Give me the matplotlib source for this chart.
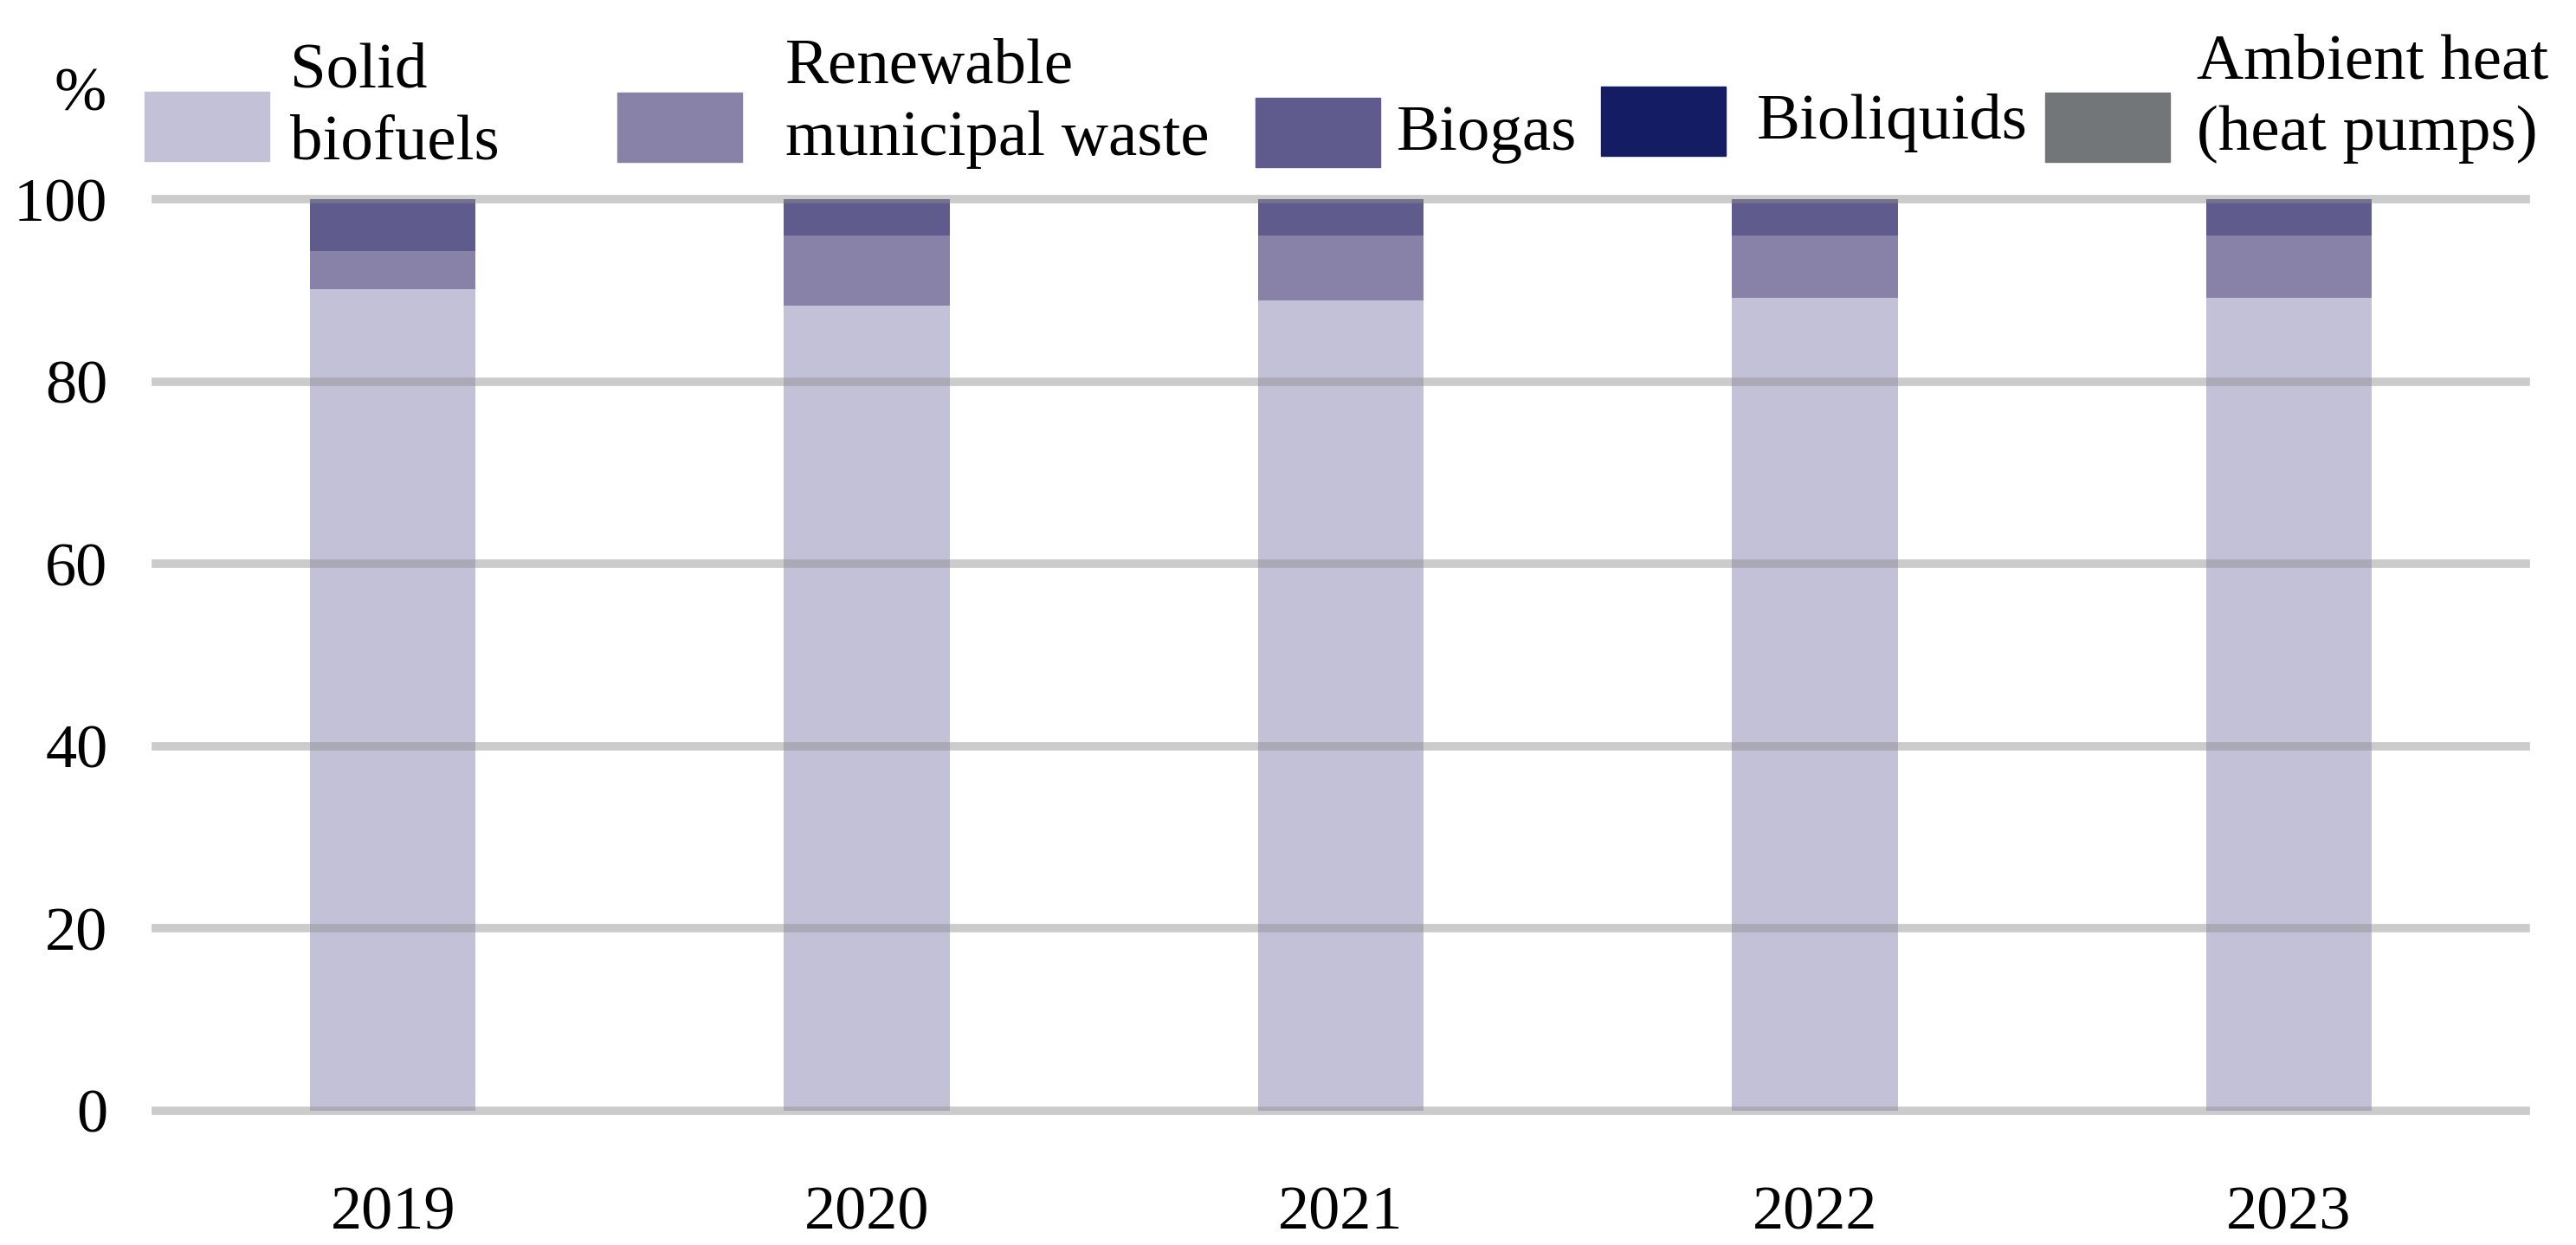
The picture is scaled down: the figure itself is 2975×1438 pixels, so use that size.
import matplotlib
matplotlib.use("Agg")
import matplotlib.pyplot as plt
from matplotlib.patches import Rectangle
import numpy as np

# Datos (porcentaje de cada fuente)
years = ["2019", "2020", "2021", "2022", "2023"]
solid_biofuels = [90.1, 88.3, 88.9, 89.2, 89.2]
municipal_waste = [4.2, 7.7, 7.1, 6.8, 6.8]
biogas = [5.7, 4.0, 4.0, 4.0, 4.0]
bioliquids = [0.0, 0.0, 0.0, 0.0, 0.0]
ambient_heat = [0.0, 0.0, 0.0, 0.0, 0.0]

labels = ["Solid\nbiofuels", "Renewable\nmunicipal waste", "Biogas",
          "Bioliquids", "Ambient heat\n(heat pumps)"]
colors = ["#c3c1d7", "#8982a8", "#5f5b8c", "#141c64", "#737678"]
y_ticks = [0, 20, 40, 60, 80, 100]

# Tamaño en pixeles
W, H = 2975, 1438
plt.rcParams['font.family'] = ['Liberation Serif', 'DejaVu Serif']

fig = plt.figure(figsize=(W / 100, H / 100), dpi=100)
ax = fig.add_axes([180 / W, 1 - 1283 / H, (2917 - 180) / W, (1283 - 230) / H])

series = [solid_biofuels, municipal_waste, biogas, bioliquids, ambient_heat]
x = np.arange(len(years))
bottom = np.zeros(len(years))
for vals, col in zip(series, colors):
    ax.bar(x, vals, width=0.35, bottom=bottom, color=col, zorder=2)
    bottom += np.array(vals)

ax.set_xlim(-0.5, len(years) - 0.5)
ax.set_ylim(0, 100)
ax.set_xticks(x)
ax.set_xticklabels(years, fontsize=52)
ax.set_yticks(y_ticks)
ax.set_yticklabels([str(v) for v in y_ticks], fontsize=52)
ax.tick_params(axis='both', length=0)
ax.tick_params(axis='x', pad=62)
ax.tick_params(axis='y', pad=40)
for s in ax.spines.values():
    s.set_visible(False)

# Rejilla encima de las barras, semi transparente
ax.grid(axis='y', color='#8c8c8c', alpha=0.45, linewidth=7, zorder=3)
ax.set_axisbelow(False)
for line in ax.get_ygridlines():
    line.set_clip_on(False)

# Leyenda manual en la parte superior
box_x = [167, 713, 1450, 1849, 2362]
box_top = [106, 107, 113, 100, 107]
text_x = [335, 907, 1613, 2029, 2537]
text_y = [124, 120, 155, 142, 114]
for bx, bt, tx, ty, lab, col in zip(box_x, box_top, text_x, text_y, labels, colors):
    fig.patches.append(Rectangle((bx / W, 1 - (bt + 80) / H), 144 / W, 80 / H,
                                 transform=fig.transFigure, color=col))
    fig.text(tx / W, 1 - ty / H, lab, fontsize=54, ha='left', va='center',
             linespacing=1.3)

fig.text(93 / W, 1 - 110 / H, "%", fontsize=52, ha='center', va='center')

fig.savefig("out.png", dpi=100)
